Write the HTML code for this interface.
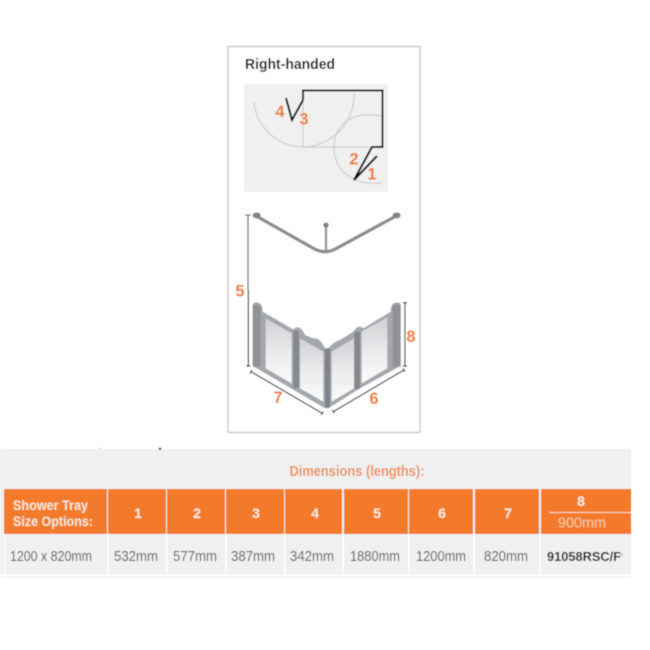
<!DOCTYPE html>
<html><head><meta charset="utf-8"><style>
html,body{margin:0;padding:0;background:#fff}
svg{display:block}
text{font-family:"Liberation Sans",sans-serif}
.o{fill:#f0792b;font-weight:bold;font-size:16.500px;text-anchor:middle}
.h{fill:#fbeee3;font-weight:bold;font-size:14px;text-anchor:middle}
.d{fill:#55575a;font-size:14.500px;text-anchor:middle}
</style></head><body>
<svg width="650" height="650" viewBox="0 0 650 650" xmlns="http://www.w3.org/2000/svg">
<defs>
<filter id="b" x="-5%" y="-5%" width="110%" height="110%"><feGaussianBlur stdDeviation="0.45"/></filter>
<linearGradient id="g" x1="0" y1="0" x2="0" y2="1"><stop offset="0" stop-color="#cfd1d3"/><stop offset="0.55" stop-color="#ebecee"/><stop offset="1" stop-color="#fbfbfb"/></linearGradient>
</defs>
<rect width="650" height="650" fill="#fff"/>
<g filter="url(#b)">
<rect x="228" y="46.500" width="192" height="386" fill="#fff" stroke="#c4c4c4" stroke-width="1.300"/>
<text x="245" y="69" font-size="15" font-weight="bold" fill="#111" textLength="90" lengthAdjust="spacingAndGlyphs">Right-handed</text>
<rect x="244" y="84" width="144" height="108" fill="#f0f0f1"/>
<g fill="none" stroke="#c6c7c9" stroke-width="1">
<path d="M254 102A50 50 0 0 0 303 147A52 52 0 0 0 354 93"/>
<path d="M303 100V147H372"/>
<path d="M381 116C352 110 334 125 334 147C334 170 352 186 381 183"/>
</g>
<g fill="none" stroke="#000" stroke-width="2">
<path d="M303 100V90.500H382.500V147H372L354 180L377 156"/>
<path d="M303 100L292 120L286 98"/>
</g>
<text class="o" x="280" y="117">4</text>
<text class="o" x="304" y="124.500">3</text>
<text class="o" x="354" y="164.500">2</text>
<text class="o" x="372" y="179.500">1</text>

<g transform="translate(225 200) scale(.3333)">
<path d="M92 47L265 145Q300 165 335 145L515 47" fill="none" stroke="#8a8d90" stroke-width="10" stroke-linecap="round"/>
<path d="M303 75V155" stroke="#94979a" stroke-width="7"/>
<circle cx="303" cy="75" r="8" fill="#808386"/>
<ellipse cx="95" cy="46" rx="12" ry="9" fill="#808386"/>
<ellipse cx="515" cy="46" rx="12" ry="9" fill="#808386"/>
</g>

<g transform="translate(225 290) scale(.3333)">
<path d="M83 228V45Q85 35 100 38Q113 42 113 65L205 118Q225 100 240 135L265 145Q285 142 300 175H310Q325 155 345 150L385 125Q400 100 415 115L497 65Q497 42 510 38Q527 35 527 45V228L400 298L315 352Q305 358 295 352Z" fill="#a4a7ab"/>
<rect x="83" y="45" width="24" height="185" fill="#8f9296"/>
<rect x="205" y="122" width="17" height="172" fill="#85888c"/>
<rect x="300" y="175" width="15" height="178" fill="#7f8286"/>
<rect x="388" y="125" width="17" height="172" fill="#85888c"/>
<rect x="503" y="45" width="24" height="185" fill="#8f9296"/>
<polygon points="122,85 200,130 200,280 122,235" fill="url(#g)"/>
<polygon points="225,145 295,185 295,335 225,295" fill="url(#g)"/>
<polygon points="320,185 387,145 387,295 320,335" fill="url(#g)"/>
<polygon points="410,125 487,82 487,235 410,280" fill="url(#g)"/>
<g stroke="#222" stroke-width="3.500" fill="none">
<path d="M70 0V228M64 228H76"/>
<path d="M540 38V228M534 38H546M534 228H546"/>
<path d="M78 245L292 370M75 251L81 240M289 375L295 365"/>
<path d="M325 365L537 240M322 360L328 370M534 235L540 245"/>
</g>
</g>
<path d="M248 215V290M245 215H251" stroke="#222" stroke-width="1.100" fill="none"/>
<text class="o" x="240" y="296.500">5</text>
<text class="o" x="411" y="342">8</text>
<text class="o" x="278" y="403">7</text>
<text class="o" x="374" y="404">6</text>

<rect x="0" y="449" width="631" height="126" fill="#f0f0f2"/>
<rect x="0" y="576" width="631" height="2" fill="#f5f5f6"/>
<text x="357" y="476" font-size="14.500" font-weight="bold" fill="#ee9257" text-anchor="middle" textLength="135" lengthAdjust="spacingAndGlyphs">Dimensions (lengths):</text>
<g fill="#f27a2a">
<rect x="4" y="489" width="103" height="45"/>
<rect x="108" y="489" width="58" height="45"/>
<rect x="167" y="489" width="58" height="45"/>
<rect x="226" y="489" width="58" height="45"/>
<rect x="285" y="489" width="57" height="45"/>
<rect x="344" y="489" width="64" height="45"/>
<rect x="409" y="489" width="64" height="45"/>
<rect x="475" y="489" width="64" height="45"/>
<rect x="541" y="489" width="90" height="45"/>
</g>
<g fill="#fff">
<rect x="4" y="534" width="1" height="42"/>
<rect x="107" y="534" width="1.500" height="42"/>
<rect x="166" y="534" width="1.500" height="42"/>
<rect x="225" y="534" width="1.500" height="42"/>
<rect x="284" y="534" width="1.500" height="42"/>
<rect x="342.500" y="534" width="1.500" height="42"/>
<rect x="408" y="534" width="1.500" height="42"/>
<rect x="473.500" y="534" width="1.500" height="42"/>
<rect x="539.500" y="534" width="1.500" height="42"/>
<rect x="0" y="574.500" width="631" height="1.500"/>
</g>
<text x="13" y="510" font-size="13.500" font-weight="bold" fill="#fbe6d6" textLength="75" lengthAdjust="spacingAndGlyphs">Shower Tray</text>
<text x="13" y="526" font-size="13.500" font-weight="bold" fill="#fbe6d6" textLength="80" lengthAdjust="spacingAndGlyphs">Size Options:</text>
<text class="h" x="138" y="518">1</text>
<text class="h" x="197" y="518">2</text>
<text class="h" x="256" y="518">3</text>
<text class="h" x="315" y="518">4</text>
<text class="h" x="377" y="518">5</text>
<text class="h" x="442" y="518">6</text>
<text class="h" x="508" y="518">7</text>
<text class="h" x="581" y="506">8</text>
<rect x="549" y="512" width="82" height="1" fill="#fbd9c2"/>
<text x="582" y="527.500" font-size="14.500" fill="#f9c9a8" text-anchor="middle" textLength="48" lengthAdjust="spacingAndGlyphs">900mm</text>
<text class="d" x="51" y="561" textLength="82" lengthAdjust="spacingAndGlyphs">1200 x 820mm</text>
<text class="d" x="136" y="561" textLength="44" lengthAdjust="spacingAndGlyphs">532mm</text>
<text class="d" x="195" y="561" textLength="44" lengthAdjust="spacingAndGlyphs">577mm</text>
<text class="d" x="253" y="561" textLength="44" lengthAdjust="spacingAndGlyphs">387mm</text>
<text class="d" x="312" y="561" textLength="44" lengthAdjust="spacingAndGlyphs">342mm</text>
<text class="d" x="375" y="561" textLength="50" lengthAdjust="spacingAndGlyphs">1880mm</text>
<text class="d" x="441" y="561" textLength="50" lengthAdjust="spacingAndGlyphs">1200mm</text>
<text class="d" x="506" y="561" textLength="44" lengthAdjust="spacingAndGlyphs">820mm</text>
<text x="547" y="561" font-size="13" font-weight="bold" fill="#111" textLength="74" lengthAdjust="spacingAndGlyphs">91058RSC/F</text>
<circle cx="621.500" cy="554.500" r="0.800" fill="#333"/>
<rect x="100" y="448" width="1" height="1" fill="#888"/>
<rect x="159" y="448" width="2" height="2" fill="#222"/>
</g>
</svg>
</body></html>
